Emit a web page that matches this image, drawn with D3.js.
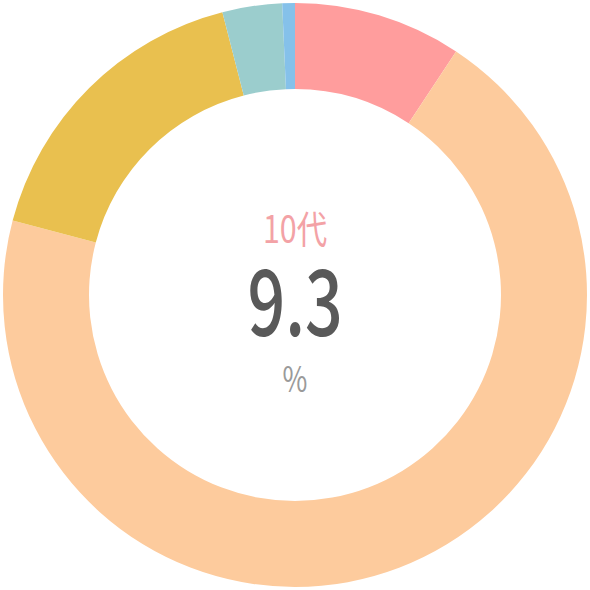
<!DOCTYPE html>
<html>
<head>
<meta charset="utf-8">
<script src="https://cdn.jsdelivr.net/npm/d3@7"></script>
<style>
  html, body { margin: 0; padding: 0; background: #fff; }
  svg { display: block; }
</style>
</head>
<body>
<div id="chart"></div>
<script>
// age groups, share in percent
var labels = ["10代", "20代", "30代", "40代", "50代以上"];
var values = [9.3, 69.8, 16.9, 3.3, 0.7];
var colors = ["#ff9d9d", "#fdcb9d", "#e9c04f", "#9bcdcd", "#85c1ea"];

var width = 590, height = 590;
var outerR = 292, innerR = 206;

var svg = d3.select("#chart").append("svg")
    .attr("width", width)
    .attr("height", height);

var g = svg.append("g")
    .attr("transform", "translate(" + width / 2 + "," + height / 2 + ")");

var pie = d3.pie().sort(null).value(function(d) { return d; });
var arc = d3.arc().innerRadius(innerR).outerRadius(outerR);

g.selectAll("path")
    .data(pie(values))
    .enter().append("path")
    .attr("d", arc)
    .style("fill", function(d, i) { return colors[i]; });

// center labels, first slice highlighted
var font = "'Noto Sans CJK JP', 'Noto Sans', sans-serif";

g.append("text")
    .attr("transform", "translate(0,-52) scale(0.8,1)")
    .attr("text-anchor", "middle")
    .style("font-family", font)
    .style("font-size", "38px")
    .style("fill", "#f3a2a6")
    .text(labels[0]);

g.append("text")
    .attr("transform", "translate(0,41) scale(0.72,1)")
    .attr("text-anchor", "middle")
    .style("font-family", font)
    .style("font-size", "92px")
    .style("font-weight", "500")
    .style("fill", "#595959")
    .text(values[0]);

g.append("text")
    .attr("transform", "translate(0,97) scale(0.75,1)")
    .attr("text-anchor", "middle")
    .style("font-family", font)
    .style("font-size", "36px")
    .style("fill", "#9a9a9a")
    .text("%");
</script>
</body>
</html>
